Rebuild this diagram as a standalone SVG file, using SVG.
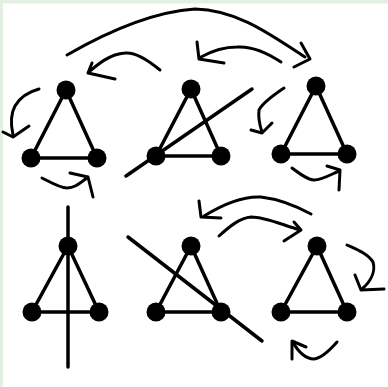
<svg xmlns="http://www.w3.org/2000/svg" width="388" height="387" viewBox="0 0 388 387">
<style>
.edge{stroke:#000;stroke-width:3.5;fill:none;stroke-linecap:round}
.node{fill:#000}
.arc{stroke:#000;stroke-width:3;fill:none;stroke-linecap:round;stroke-linejoin:round}
</style>
<rect x="0" y="0" width="388" height="387" fill="#fff"/>
<rect x="0" y="0" width="388" height="3.5" fill="#e4efe4"/>
<rect x="0" y="0" width="3" height="387" fill="#e4efe4"/>

<g id="graph1">
<path class="edge" d="M66,90 L31,158 L97,158 Z"/>
<circle class="node" cx="66" cy="90" r="9.5"/>
<circle class="node" cx="31" cy="158" r="9.5"/>
<circle class="node" cx="97" cy="158" r="9.5"/>
</g>
<g id="graph2">
<path class="edge" d="M191,89 L156,156 L221,156 Z"/>
<path class="edge" d="M126,176 L252,89"/>
<circle class="node" cx="191" cy="89" r="9.5"/>
<circle class="node" cx="156" cy="156" r="9.5"/>
<circle class="node" cx="221" cy="156" r="9.5"/>
</g>
<g id="graph3">
<path class="edge" d="M316,86 L281,154 L347,154 Z"/>
<circle class="node" cx="316" cy="86" r="9.5"/>
<circle class="node" cx="281" cy="154" r="9.5"/>
<circle class="node" cx="347" cy="154" r="9.5"/>
</g>
<g id="graph4">
<path class="edge" d="M68,246 L32,312 L99,312 Z"/>
<path class="edge" d="M68,207 L68,367"/>
<circle class="node" cx="68" cy="246" r="9.5"/>
<circle class="node" cx="32" cy="312" r="9.5"/>
<circle class="node" cx="99" cy="312" r="9.5"/>
</g>
<g id="graph5">
<path class="edge" d="M191,246 L156,312 L221,312 Z"/>
<path class="edge" d="M128,237 L262,341"/>
<circle class="node" cx="191" cy="246" r="9.5"/>
<circle class="node" cx="156" cy="312" r="9.5"/>
<circle class="node" cx="221" cy="312" r="9.5"/>
</g>
<g id="graph6">
<path class="edge" d="M317,246 L281,312 L347,312 Z"/>
<circle class="node" cx="317" cy="246" r="9.5"/>
<circle class="node" cx="281" cy="312" r="9.5"/>
<circle class="node" cx="347" cy="312" r="9.5"/>
</g>

<g id="connectors">
<path class="arc" d="M67,55 C100,36 150,12 195,9 C240,10 275,38 305,57"/>
<path class="arc" d="M301,43 L310,59 L294,67"/>

<path class="arc" d="M160,70 C148,60 135,52 125,53 C110,54 98,64 89,72"/>
<path class="arc" d="M92,63 L88,73 L115,79"/>

<path class="arc" d="M281,62 C266,52 252,46 237,47 C222,47 210,52 201,57"/>
<path class="arc" d="M197,42 L199,59 L224,63"/>

<path class="arc" d="M284,88 C272,96 262,104 259,110 C258,118 260,126 262,132"/>
<path class="arc" d="M251,130 L262,133 L272,123"/>

<path class="arc" d="M292,168 C300,174 308,180 314,180 C322,180 332,174 339,171"/>
<path class="arc" d="M327,166 L340,170 L339,190"/>

<path class="arc" d="M39,89 C28,92 20,97 15,106 C10,115 11,126 13,135"/>
<path class="arc" d="M3,132 L13,137 L29,126"/>

<path class="arc" d="M42,178 C50,182 60,188 67,188 C75,188 80,183 87,178"/>
<path class="arc" d="M70,173 L88,177 L93,197"/>

<path class="arc" d="M311,214 C298,207 278,199 261,197 C244,196 225,203 204,216"/>
<path class="arc" d="M199,201 L201,217 L221,218"/>

<path class="arc" d="M219,236 C230,226 240,218 251,217 C265,217 280,224 300,230"/>
<path class="arc" d="M294,222 L301,230 L284,241"/>

<path class="arc" d="M347,245 C358,250 368,254 373,262 C376,272 370,282 362,289"/>
<path class="arc" d="M355,275 L361,290 L384,289"/>

<path class="arc" d="M337,342 C330,350 322,358 314,359 C306,359 298,352 293,342"/>
<path class="arc" d="M292,359 L292,341 L306,347"/>
</g>
</svg>
